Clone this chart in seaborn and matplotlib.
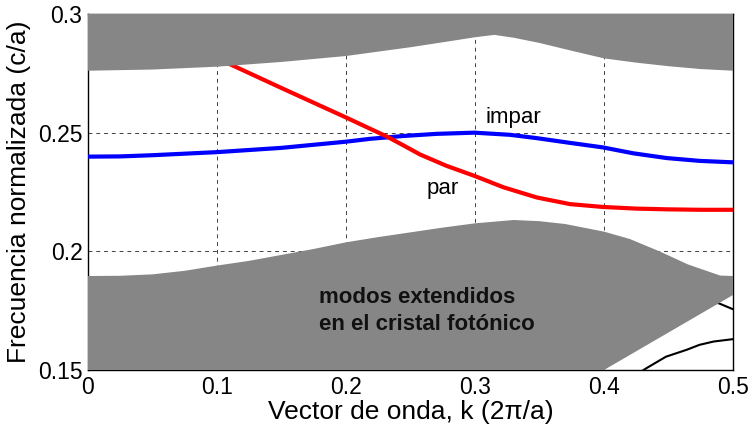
import matplotlib
matplotlib.use("Agg")
import matplotlib.pyplot as plt
import numpy as np
import seaborn as sns

# upper band (radiation modes), lower edge
k_up = [0, 0.05, 0.1, 0.15, 0.2, 0.25, 0.28, 0.3, 0.315, 0.33, 0.35, 0.375, 0.4, 0.425, 0.45, 0.475, 0.5]
f_up = [0.2761, 0.2766, 0.2778, 0.2798, 0.2823, 0.2860, 0.2885, 0.2902, 0.2912, 0.2900, 0.2878, 0.2845,
        0.2813, 0.2795, 0.2780, 0.2768, 0.2761]

# lower band (extended modes), upper and lower edges
k_low_top = [0, 0.025, 0.05, 0.075, 0.1, 0.125, 0.15, 0.175, 0.2, 0.225, 0.25, 0.275, 0.3, 0.33, 0.35,
             0.37, 0.4, 0.42, 0.443, 0.465, 0.49, 0.5]
f_low_top = [0.1896, 0.1897, 0.1903, 0.1918, 0.1940, 0.1960, 0.1985, 0.2010, 0.2038, 0.2060, 0.2080,
             0.2100, 0.2118, 0.2132, 0.2127, 0.2115, 0.2083, 0.2052, 0.2000, 0.1945, 0.1898, 0.1896]
k_low_bot = [0, 0.40, 0.5]
f_low_bot = [0.14, 0.15, 0.1816]

# guided modes
k_impar = [0, 0.025, 0.05, 0.1, 0.15, 0.2, 0.2186, 0.2444, 0.2703, 0.2995, 0.3271, 0.3478, 0.3736,
           0.399, 0.4227, 0.4486, 0.4744, 0.5]
f_impar = [0.2399, 0.2400, 0.2405, 0.2418, 0.2436, 0.2462, 0.2474, 0.2486, 0.2495, 0.2500, 0.2491,
           0.2477, 0.2457, 0.2438, 0.2413, 0.2393, 0.2381, 0.2375]
k_par = [0.10, 0.1114, 0.15, 0.2, 0.2315, 0.245, 0.2574, 0.278, 0.2995, 0.322, 0.3478, 0.3736, 0.399,
         0.425, 0.4486, 0.475, 0.5]
f_par = [0.2814, 0.2785, 0.2688, 0.2564, 0.2484, 0.2445, 0.2408, 0.2360, 0.2318, 0.2270, 0.2227, 0.2199,
         0.2187, 0.2180, 0.2177, 0.2175, 0.2175]

# higher-order bands, bottom right
k_b1 = [0.425, 0.433, 0.448, 0.464, 0.474, 0.485, 0.5]
f_b1 = [0.148, 0.1508, 0.1556, 0.1585, 0.1606, 0.1620, 0.1630]
k_b2 = [0.46, 0.475, 0.489, 0.5]
f_b2 = [0.1795, 0.1795, 0.1781, 0.1756]

x_ticks = [0, 0.1, 0.2, 0.3, 0.4, 0.5]
x_labels = ["0", "0.1", "0.2", "0.3", "0.4", "0.5"]
y_ticks = [0.15, 0.2, 0.25, 0.3]
y_labels = ["0.15", "0.2", "0.25", "0.3"]

GRAY = "#868686"

sns.set_theme(style="white")
plt.rcParams.update({
    "font.family": ["Liberation Sans", "DejaVu Sans"],
    "text.color": "black",
    "axes.labelcolor": "black",
})

fig = plt.figure(figsize=(7.5, 4.34), dpi=100)
ax = fig.add_axes([88 / 750, 1 - 370 / 434, (733 - 88) / 750, (370 - 14) / 434])

sns.lineplot(x=k_b1, y=f_b1, ax=ax, color="black", lw=1.5, sort=False, zorder=2)
sns.lineplot(x=k_b2, y=f_b2, ax=ax, color="black", lw=1.5, sort=False, zorder=2)

ax.fill(np.r_[k_up, k_up[::-1]], np.r_[f_up, [0.31] * len(k_up)], color=GRAY, lw=0, zorder=3)
ax.fill(np.r_[k_low_top, k_low_bot[::-1]], np.r_[f_low_top, f_low_bot[::-1]], color=GRAY, lw=0, zorder=3)

sns.lineplot(x=k_impar, y=f_impar, ax=ax, color="#0000ff", lw=3, sort=False, zorder=2.8)
sns.lineplot(x=k_par, y=f_par, ax=ax, color="#ff0000", lw=3, sort=False, zorder=2.8)

ax.set_xlim(0, 0.5)
ax.set_ylim(0.15, 0.3)
ax.set_xticks(x_ticks, x_labels)
ax.set_yticks(y_ticks, y_labels)
ax.tick_params(length=0, labelsize=16.5, pad=4, colors="black")
ax.grid(True, color="black", linestyle=(0, (4, 4)), linewidth=0.7, alpha=0.75)
ax.set_axisbelow(True)
for sp in ax.spines.values():
    sp.set_color("black")
    sp.set_linewidth(1.0)
    sp.set_zorder(2.5)

ax.set_xlabel("Vector de onda, k (2\u03c0/a)", fontsize=19, labelpad=1)
ax.set_ylabel("Frecuencia normalizada (c/a)", fontsize=19, labelpad=5)

ax.text(0.308, 0.254, "impar", fontsize=16, va="baseline", ha="left", zorder=4)
ax.text(0.2625, 0.224, "par", fontsize=16, va="baseline", ha="left", zorder=4)
ax.text(0.179, 0.1781, "modos extendidos", fontsize=16, fontweight="bold",
        va="baseline", ha="left", color="#111111", zorder=4)
ax.text(0.179, 0.1669, "en el cristal fot\u00f3nico", fontsize=16, fontweight="bold",
        va="baseline", ha="left", color="#111111", zorder=4)

fig.savefig("out.png", dpi=100)
